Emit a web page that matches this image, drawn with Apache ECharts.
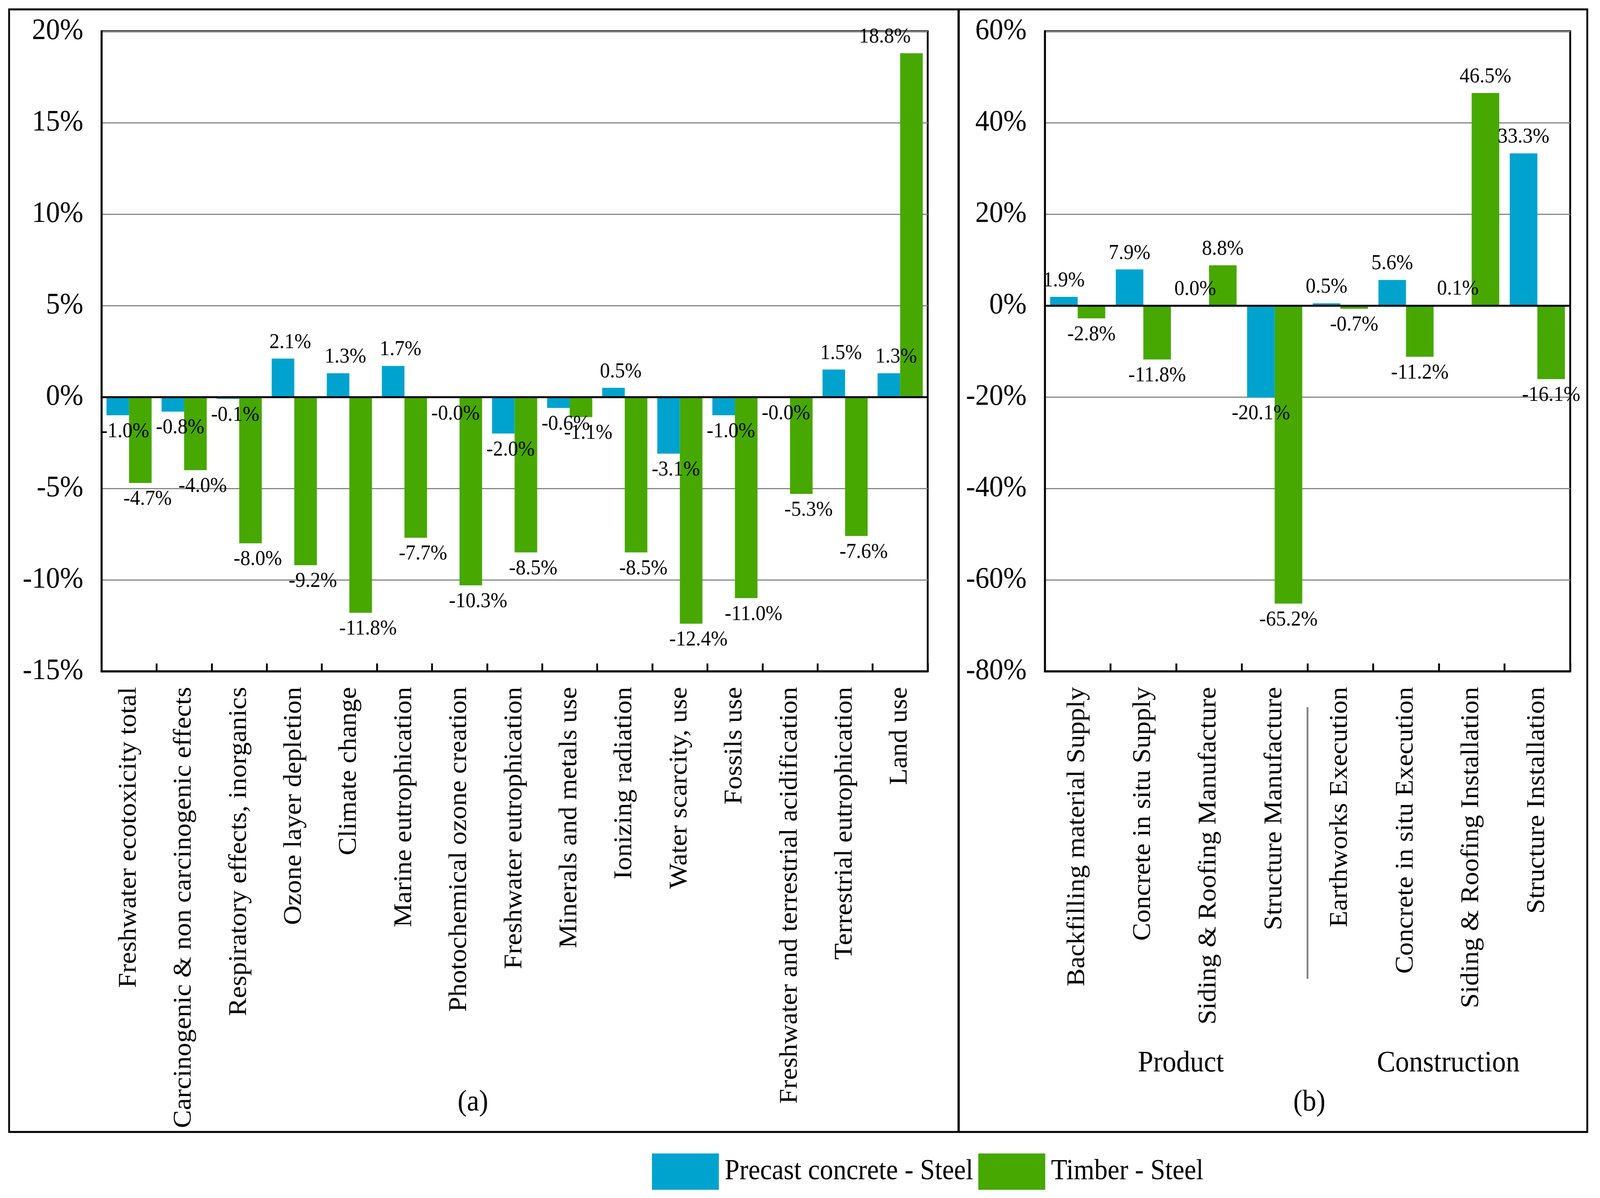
<!DOCTYPE html>
<html>
<head>
<meta charset="utf-8">
<script src="https://cdn.jsdelivr.net/npm/echarts@6/dist/echarts.min.js"></script>
<style>
html,body{margin:0;padding:0;background:#fff;overflow:hidden;}
#chart{width:4398px;height:3066px;transform-origin:0 0;}
</style>
</head>
<body>
<div id="chart"></div>
<script>
// ---- Data ----
const categoriesA = [
  'Freshwater ecotoxicity total',
  'Carcinogenic & non carcinogenic effects',
  'Respiratory effects, inorganics',
  'Ozone layer depletion',
  'Climate change',
  'Marine eutrophication',
  'Photochemical ozone creation',
  'Freshwater eutrophication',
  'Minerals and metals use',
  'Ionizing radiation',
  'Water scarcity, use',
  'Fossils use',
  'Freshwater and terrestrial acidification',
  'Terrestrial eutrophication',
  'Land use'
];
const precastA = [-1.0, -0.8, -0.1, 2.1, 1.3, 1.7, -0.04, -2.0, -0.6, 0.5, -3.1, -1.0, -0.03, 1.5, 1.3];
const timberA  = [-4.7, -4.0, -8.0, -9.2, -11.8, -7.7, -10.3, -8.5, -1.1, -8.5, -12.4, -11.0, -5.3, -7.6, 18.8];

const categoriesB = [
  'Backfilling material Supply',
  'Concrete in situ Supply',
  'Siding & Roofing Manufacture',
  'Structure Manufacture',
  'Earthworks Execution',
  'Concrete in situ Execution',
  'Siding & Roofing Installation',
  'Structure Installation'
];
const precastB = [1.9, 7.9, 0.0, -20.1, 0.5, 5.6, 0.1, 33.3];
const timberB  = [-2.8, -11.8, 8.8, -65.2, -0.7, -11.2, 46.5, -16.1];

const axisA = {min: -15, max: 20, interval: 5};
const axisB = {min: -80, max: 60, interval: 20};

const seriesNames = ['Precast concrete - Steel', 'Timber - Steel'];
const phaseLabels = ['Product', 'Construction'];
const panelLabels = ['(a)', '(b)'];

// ---- Style ----
const BLUE = '#00A3CE';
const GREEN = '#46A800';
const FONT = 'Liberation Serif';
const W = 4398, H = 3066;
// horizontal shift of value labels (style only)
const labelShiftA = 20;
const specialLabelShift = {'A-timber-14': -73};

// fit the fixed-size drawing into the actual viewport
(function fit() {
  const el = document.getElementById('chart');
  const vw = document.documentElement.clientWidth || window.innerWidth || W;
  const vh = document.documentElement.clientHeight || window.innerHeight || H;
  const sx = vw / W, sy = vh / H;
  if (Math.abs(sx - 1) > 0.001 || Math.abs(sy - 1) > 0.001) {
    el.style.transform = 'scale(' + sx + ',' + sy + ')';
  }
})();

const chart = echarts.init(document.getElementById('chart'), null, {renderer: 'canvas', width: W, height: H});

const gridA = {left: 279, top: 80, width: 2271, height: 1638};
const gridB = {left: 2872, top: 80, width: 1444, height: 1638};

function items(arr, key, shift) {
  return arr.map((v, i) => {
    const sp = specialLabelShift[key + '-' + i];
    return {value: v, label: {position: v >= 0 ? 'top' : 'bottom', offset: [sp !== undefined ? sp : shift, 0]}};
  });
}

function xAxis(idx, cats, shift) {
  return {
    type: 'category', gridIndex: idx, data: cats, position: 'bottom',
    axisLine: {show: true, onZero: false, lineStyle: {color: '#000', width: 5}},
    axisTick: {show: true, inside: true, length: 20, lineStyle: {color: '#000', width: 5}},
    axisLabel: {interval: 0, rotate: 90, margin: 40, fontFamily: FONT, fontSize: 69, color: '#000',
      padding: [shift, 0, 0, 0]},
    splitLine: {show: false}
  };
}
function yAxis(idx, ax) {
  return {
    type: 'value', gridIndex: idx, min: ax.min, max: ax.max, interval: ax.interval,
    axisLine: {show: true, lineStyle: {color: '#000', width: 5}},
    axisTick: {show: false},
    axisLabel: {formatter: '{value}%', margin: 50, fontFamily: FONT, fontSize: 77, color: '#000'},
    splitLine: {show: true, lineStyle: {color: '#878787', width: 3}}
  };
}
function bar(name, data, idx, color, width, key, shift) {
  return {
    name: name, type: 'bar', xAxisIndex: idx, yAxisIndex: idx,
    data: items(data, key, shift), barWidth: width, barGap: '0%',
    itemStyle: {color: color},
    label: {show: true, distance: 14, fontFamily: FONT, fontSize: 55, color: '#000',
      formatter: p => p.value.toFixed(1) + '%'}
  };
}
const zeroLine = {
  silent: true, symbol: 'none', label: {show: false},
  lineStyle: {color: '#000', width: 5, type: 'solid'},
  data: [{yAxis: 0}]
};

const sA1 = bar(seriesNames[0], precastA, 0, BLUE, '41%', 'A-precast', labelShiftA);
const sA2 = bar(seriesNames[1], timberA, 0, GREEN, '41%', 'A-timber', labelShiftA);
sA2.markLine = zeroLine;
const sB1 = bar(seriesNames[0], precastB, 1, BLUE, '42%', 'B-precast', 0);
const sB2 = bar(seriesNames[1], timberB, 1, GREEN, '42%', 'B-timber', 0);
sB2.markLine = JSON.parse(JSON.stringify(zeroLine));

const sepX = gridB.left + gridB.width * 4 / categoriesB.length;

const option = {
  backgroundColor: '#fff',
  animation: false,
  grid: [
    Object.assign({show: true, borderColor: '#000', borderWidth: 5, backgroundColor: 'transparent'}, gridA),
    Object.assign({show: true, borderColor: '#000', borderWidth: 5, backgroundColor: 'transparent'}, gridB)
  ],
  xAxis: [xAxis(0, categoriesA, 34), xAxis(1, categoriesB, 24)],
  yAxis: [yAxis(0, axisA), yAxis(1, axisB)],
  legend: {
    data: seriesNames, left: 1787, top: 2947, orient: 'horizontal',
    icon: 'rect', itemWidth: 184, itemHeight: 93, itemGap: 14,
    textStyle: {fontFamily: FONT, fontSize: 73, color: '#000', padding: [0, 0, 0, 11]}
  },
  series: [sA1, sA2, sB1, sB2],
  graphic: [
    {type: 'rect', shape: {x: 25, y: 24, width: 4338, height: 2873},
      style: {fill: 'none', stroke: '#000', lineWidth: 5}, silent: true},
    {type: 'line', shape: {x1: 2635, y1: 24, x2: 2635, y2: 2897},
      style: {stroke: '#000', lineWidth: 6}, silent: true},
    {type: 'line', shape: {x1: sepX, y1: 1810, x2: sepX, y2: 2505},
      style: {stroke: '#808080', lineWidth: 5}, silent: true},
    {type: 'text', x: 3246, y: 2722, style: {text: phaseLabels[0], font: '76px "Liberation Serif"', fill: '#000', textAlign: 'center', textVerticalAlign: 'middle'}},
    {type: 'text', x: 3981, y: 2722, style: {text: phaseLabels[1], font: '76px "Liberation Serif"', fill: '#000', textAlign: 'center', textVerticalAlign: 'middle'}},
    {type: 'text', x: 1300, y: 2822, style: {text: panelLabels[0], font: '76px "Liberation Serif"', fill: '#000', textAlign: 'center', textVerticalAlign: 'middle'}},
    {type: 'text', x: 3599, y: 2822, style: {text: panelLabels[1], font: '76px "Liberation Serif"', fill: '#000', textAlign: 'center', textVerticalAlign: 'middle'}}
  ]
};
chart.setOption(option);
</script>
</body>
</html>
